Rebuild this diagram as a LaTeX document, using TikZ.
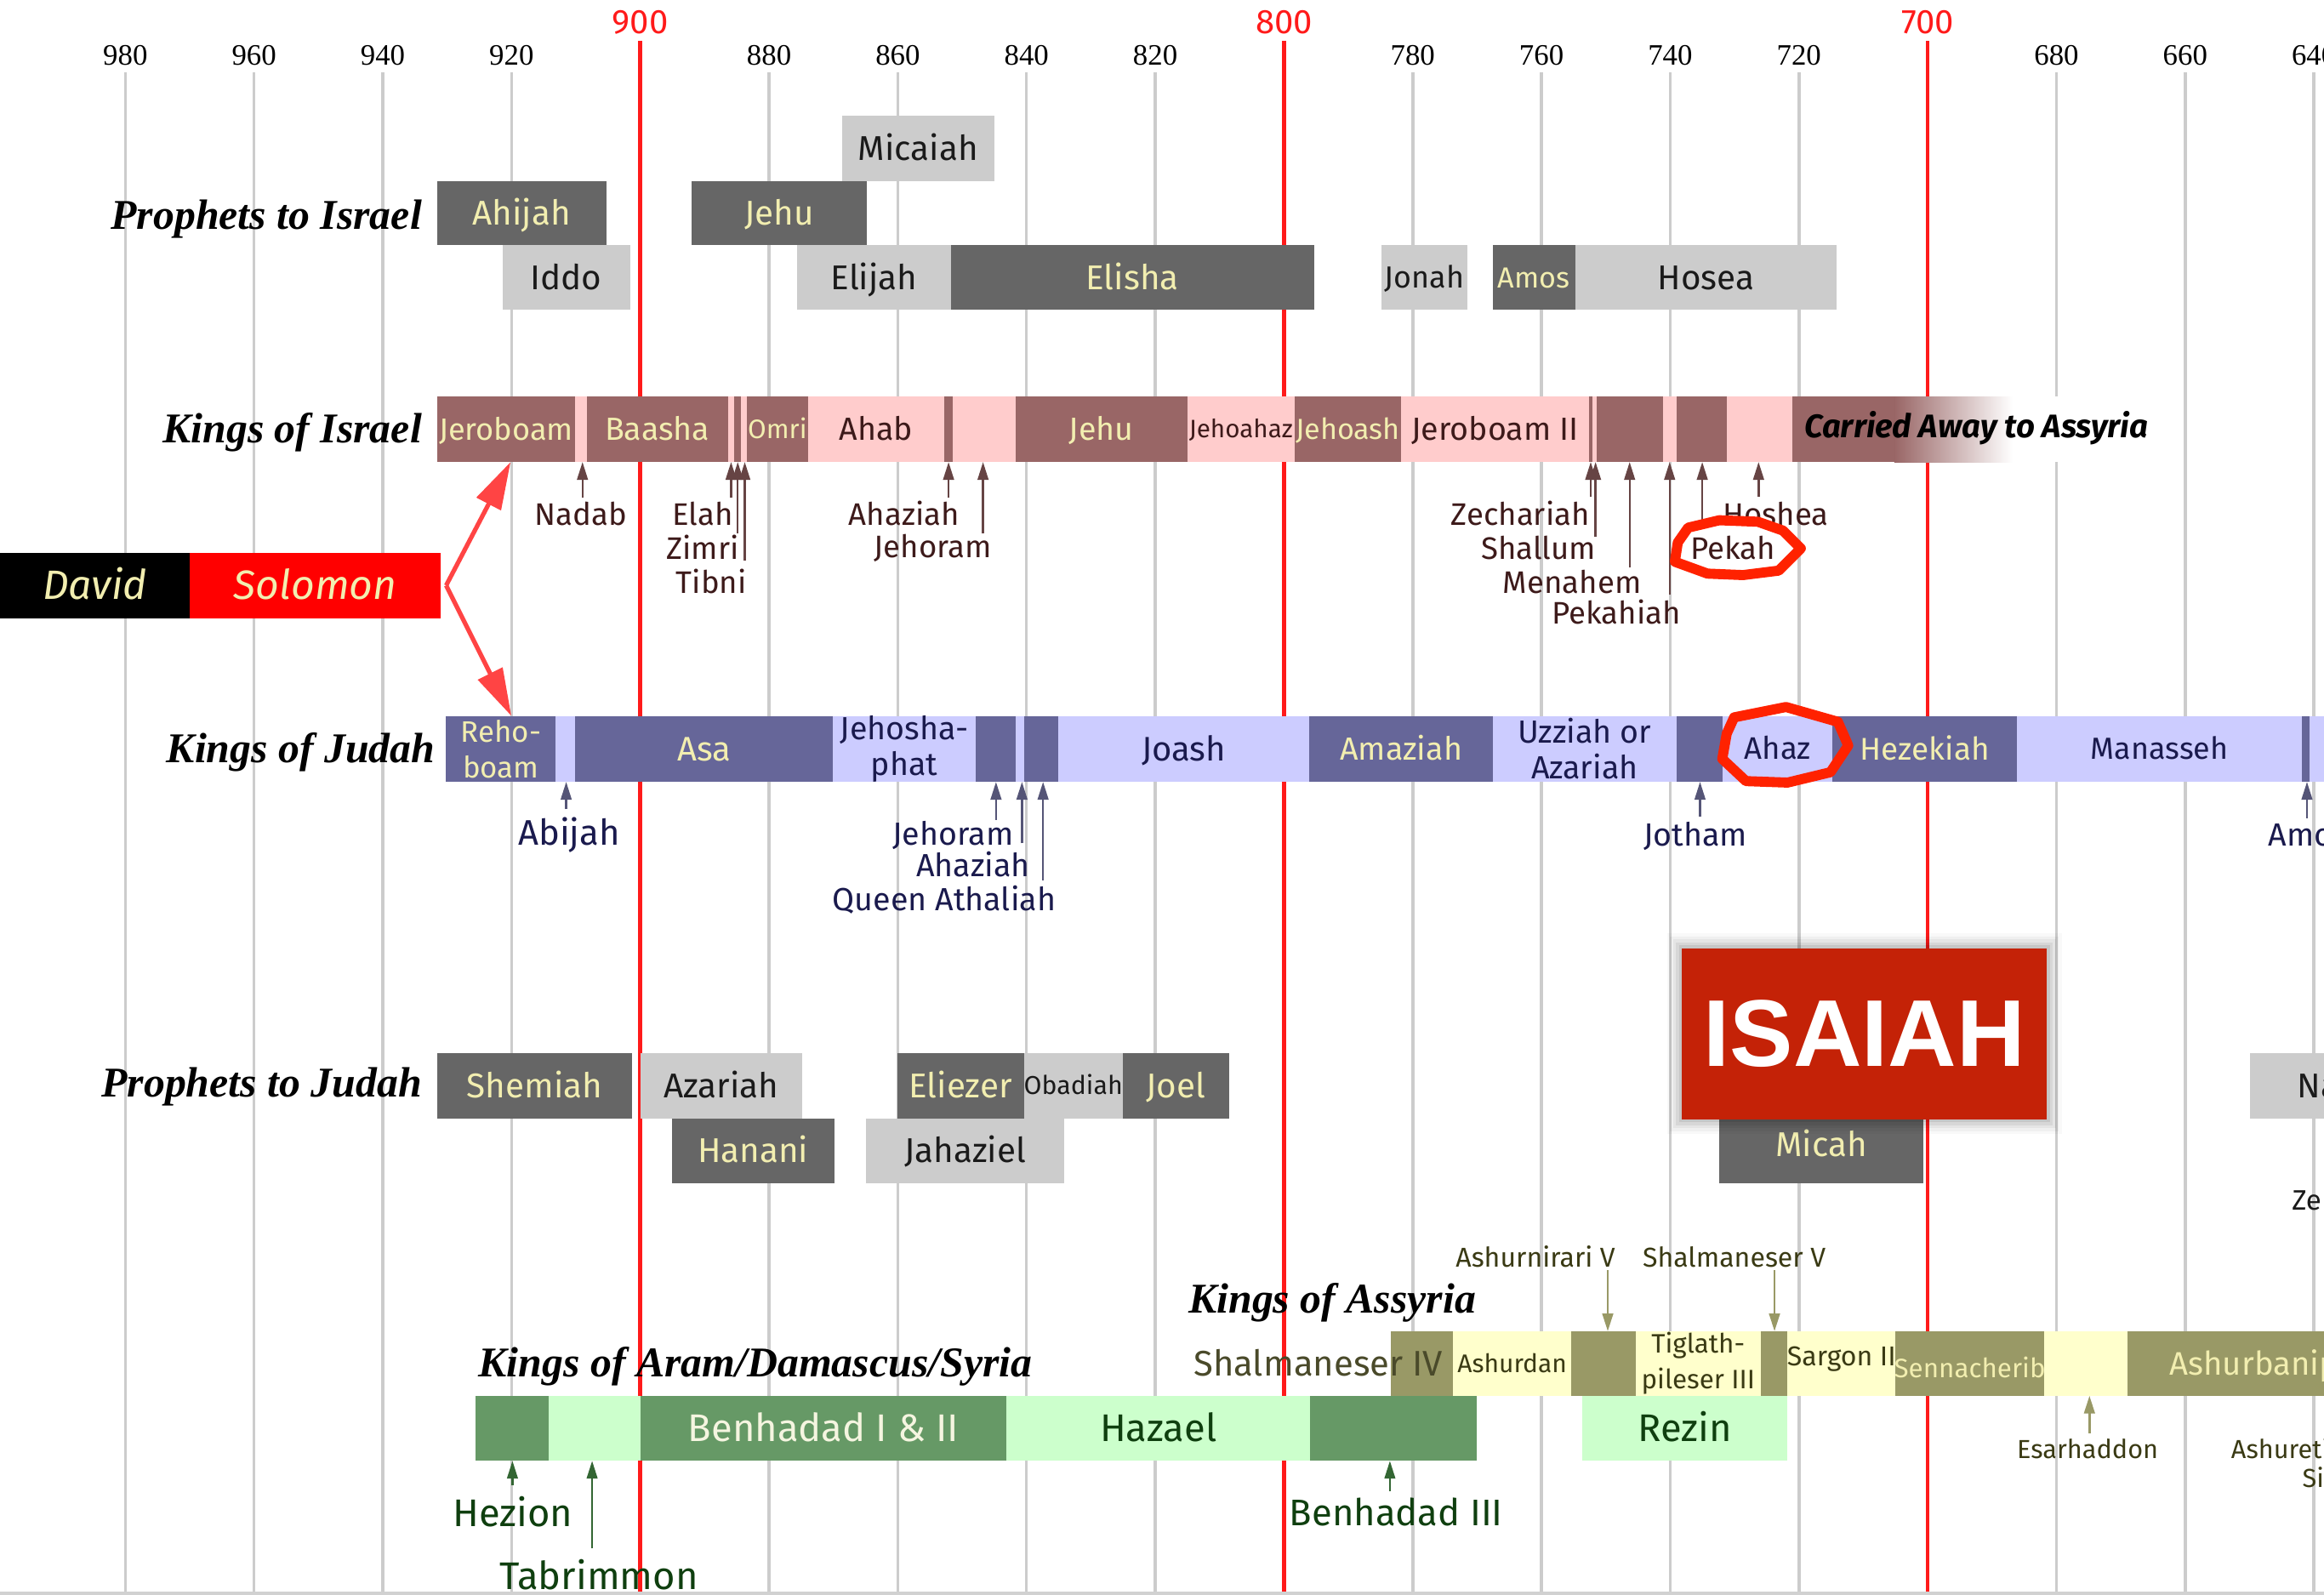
\documentclass[tikz,border=0pt]{standalone}
\usepackage{fontspec}
\setmainfont{Liberation Serif}
\newfontfamily\fsans{Fira Sans}
\newfontfamily\fhead{Liberation Sans}
\usetikzlibrary{fit,arrows.meta,calc}

\definecolor{pdark}{HTML}{666666}
\definecolor{plight}{HTML}{CCCCCC}
\definecolor{cream}{HTML}{F2EEB0}
\definecolor{creamw}{HTML}{F5F5E0}
\definecolor{ptext}{HTML}{1A1A1A}
\definecolor{idark}{HTML}{996666}
\definecolor{ilight}{HTML}{FFCCCC}
\definecolor{itext}{HTML}{3D1A1A}
\definecolor{jdark}{HTML}{666699}
\definecolor{jlight}{HTML}{CCCCFF}
\definecolor{jtext}{HTML}{1A1A4D}
\definecolor{adark}{HTML}{669966}
\definecolor{alight}{HTML}{CCFFCC}
\definecolor{atext}{HTML}{0F3F0F}
\definecolor{sdark}{HTML}{999966}
\definecolor{slight}{HTML}{FFFFCC}
\definecolor{stext}{HTML}{3A3A14}
\definecolor{stextb}{HTML}{4A4A2A}
\definecolor{iarrc}{HTML}{664444}
\definecolor{jarrc}{HTML}{555577}
\definecolor{aarrc}{HTML}{336633}
\definecolor{sarrc}{HTML}{999966}
\definecolor{gridc}{HTML}{CCCCCC}
\definecolor{redl}{HTML}{FF1A1A}
\definecolor{isaiahc}{HTML}{C42207}
\definecolor{ringc}{HTML}{FF2200}
\definecolor{forkc}{HTML}{FF4444}
\definecolor{solred}{HTML}{FF0000}

\tikzset{
  boxbase/.style={inner sep=0pt, outer sep=0pt, draw=none, rectangle},
  fs/.style={font={\fsans\fontsize{#1}{12}\selectfont}, inner sep=0pt, anchor=base, yshift={-0.3445pt*#1}},
  fsi/.style={font={\fsans\itshape\fontsize{#1}{14}\selectfont}, inner sep=0pt, anchor=base, yshift={-0.3445pt*#1}},
  fsm/.style={font={\fsans\fontsize{#1}{12}\selectfont}, inner sep=0pt, align=center},
  ptd/.style={text=cream}, ptl/.style={text=ptext},
  itd/.style={text=cream}, itl/.style={text=itext},
  jtd/.style={text=cream}, jtl/.style={text=jtext},
  atd/.style={text=creamw}, atl/.style={text=atext},
  std/.style={text=cream}, stl/.style={text=stext},
  grouphead/.style={font={\bfseries\itshape\fontsize{14.3}{15}\selectfont}, inner sep=0pt, text=black},
  gridl/.style={draw=gridc, line width=1pt},
  redline/.style={draw=redl, line width=1.3pt},
  yearlab/.style={font={\fontsize{10}{10}\selectfont}, inner sep=0pt, anchor=base},
  redyear/.style={font={\fsans\fontsize{11.5}{12}\selectfont}, text=redl, inner sep=0pt, anchor=base},
  arrtip/.style={-{Triangle[length=6pt,width=3.6pt]}},
  iar/.style={draw=iarrc, line width=0.7pt, arrtip},
  jar/.style={draw=jarrc, line width=0.7pt, arrtip},
  aar/.style={draw=aarrc, line width=0.7pt, arrtip},
  sar/.style={draw=sarrc, line width=0.8pt, arrtip},
  ringline/.style={draw=ringc, line width=3.4pt, line join=round},
  forkarr/.style={draw=forkc, line width=1.5pt, -{Triangle[length=16pt,width=9pt]}},
}
\newcommand\bx[8]{\node[boxbase, fit={(#3,#5) (#4,#6)}, #1] (#2) {};
  \node[#7] (#2t) at (#2.center) {#8};}
\newcommand\bxe[6]{\node[boxbase, fit={(#3,#5) (#4,#6)}, #1] (#2) {};}

\begin{document}
\begin{tikzpicture}[x=0.5pt,y=-0.5pt]
\useasboundingbox (0,0) rectangle (1568,1076);
\begin{scope}
\clip (0,0) rectangle (1568,1076);
\fill[white] (0,0) rectangle (1568,1076);

% grid and years
\foreach \yr in {980,960,940,920,880,860,840,820,780,760,740,720,680,660,640}{
  \pgfmathsetmacro\xx{432+(900-\yr)*4.343}
  \draw[gridl] (\xx,49) -- (\xx,1080);
  \node[yearlab] (yr\yr) at (\xx,43.9) {\yr};
}
\foreach \yr in {900,800,700}{
  \pgfmathsetmacro\xx{432+(900-\yr)*4.343}
  \draw[redline] (\xx,27.5) -- (\xx,1080);
  \node[redyear] (yr\yr) at (\xx,22.4) {\yr};
}
\draw[black!18, line width=1.2pt] (0,1075) -- (1568,1075);

% group headings
\node[grouphead, anchor=base east] (hIsrP) at (285,154.5) {Prophets to Israel};
\node[grouphead, anchor=base east] (hIsrK) at (285,298.6) {Kings of Israel};
\node[grouphead, anchor=base east] (hJudK) at (294,514.3) {Kings of Judah};
\node[grouphead, anchor=base east] (hJudP) at (285,740.3) {Prophets to Judah};
\node[grouphead, anchor=base west] (hAram) at (322.5,929.1) {Kings of Aram/Damascus/Syria};
\node[grouphead, anchor=base west] (hAss) at (801.5,885.6) {Kings of Assyria};

% Prophets to Israel
\bx{fill=plight}{micaiah}{568}{671}{78}{122}{fs=11.6,ptl}{Micaiah}
\bx{fill=pdark}{ahijah}{295}{409}{122}{165.5}{fs=11.6,ptd}{Ahijah}
\bx{fill=pdark}{jehuP}{466.5}{585}{122}{165.5}{fs=11.6,ptd}{Jehu}
\bx{fill=plight}{iddo}{339}{425}{165.5}{209}{fs=11.6,ptl}{Iddo}
\bx{fill=plight}{elijah}{538}{641.5}{165.5}{209}{fs=11.6,ptl}{Elijah}
\bx{fill=pdark}{elisha}{641.5}{886.5}{165.5}{209}{fs=11.6,ptd}{Elisha}
\bx{fill=plight}{jonah}{932}{990}{165.5}{209}{fs=10.3,ptl}{Jonah}
\bx{fill=pdark}{amos}{1007}{1063}{165.5}{209}{fs=9.8,ptd}{Amos}
\bx{fill=plight}{hosea}{1063}{1239}{165.5}{209}{fs=11.6,ptl}{Hosea}

% Kings of Israel
\bx{fill=idark}{jerob}{295}{388}{267.5}{311.7}{fs=10.4,itd}{Jeroboam}
\bxe{fill=ilight}{nadabB}{388}{396}{267.5}{311.7}
\bx{fill=idark}{baasha}{396}{491}{267.5}{311.7}{fs=10.8,itd}{Baasha}
\bxe{fill=ilight}{elahB}{491}{495.5}{267.5}{311.7}
\bxe{fill=idark}{zimriB}{495.5}{500}{267.5}{311.7}
\bxe{fill=ilight}{tibniB}{500}{504}{267.5}{311.7}
\bx{fill=idark}{omri}{504}{545}{267.5}{311.7}{fs=9,itd}{Omri}
\bx{fill=ilight}{ahab}{545}{637}{267.5}{311.7}{fs=10.8,itl}{Ahab}
\bxe{fill=idark}{ahazIB}{637}{642.75}{267.5}{311.7}
\bxe{fill=ilight}{jehoramIB}{642.75}{685.25}{267.5}{311.7}
\bx{fill=idark}{jehuK}{685.25}{801}{267.5}{311.7}{fs=10.8,itd}{Jehu}
\bx{fill=ilight}{jehoahaz}{801}{873.5}{267.5}{311.7}{fs=8.5,itl}{Jehoahaz}
\bx{fill=idark}{jehoash}{873.5}{945.25}{267.5}{311.7}{fs=9.8,itd}{Jehoash}
\bx{fill=ilight}{jerobII}{945.25}{1072}{267.5}{311.7}{fs=10.8,itl}{Jeroboam II}
\bxe{fill=idark}{zechB}{1072}{1074.5}{267.5}{311.7}
\bxe{fill=ilight}{shallB}{1074.5}{1077}{267.5}{311.7}
\bxe{fill=idark}{menB}{1077}{1122}{267.5}{311.7}
\bxe{fill=ilight}{pekahiahB}{1122}{1131}{267.5}{311.7}
\bxe{fill=idark}{pekahB}{1131}{1165}{267.5}{311.7}
\bxe{fill=ilight}{hosheaB}{1165}{1209}{267.5}{311.7}
\node[boxbase, fit={(1209,267.5) (1465,311.7)}, fill=white] (carried) {};
\fill[idark] (1209,267.5) rectangle (1279,311.7);
\shade[left color=idark, right color=white] (1278,267.5) rectangle (1358,311.7);
\node[font={\fsans\bfseries\itshape\fontsize{11}{12}\selectfont}, inner sep=0pt, anchor=base west] (carriedt) at (1217,295.2) {Carried Away to Assyria};

% Israel labels
\node[fs=10.5, text=itext] (nadab) at (392,347) {Nadab};
\node[fs=10.5, text=itext] (elah) at (474,347) {Elah};
\node[fs=10.5, text=itext] (zimri) at (474,370) {Zimri};
\node[fs=10.5, text=itext] (tibni) at (480,393) {Tibni};
\node[fs=10.5, text=itext] (ahazI) at (610,347) {Ahaziah};
\node[fs=10.5, text=itext] (jehoramI) at (629.5,369) {Jehoram};
\node[fs=10.5, text=itext] (zech) at (1025.75,347) {Zechariah};
\node[fs=10.5, text=itext] (shall) at (1038,370) {Shallum};
\node[fs=10.5, text=itext] (men) at (1060.75,393) {Menahem};
\node[fs=10.5, text=itext] (pekahiah) at (1090.5,413.6) {Pekahiah};
\node[fs=10.5, text=itext] (pekah) at (1169,370) {Pekah};
\node[fs=10.5, text=itext] (hoshea) at (1198,347) {Hoshea};
\coordinate (nadabA) at (393,336);
\coordinate (elahA) at (493.25,336);
\coordinate (zimriA) at (497.75,360);
\coordinate (tibniA) at (502.5,378);
\coordinate (ahazIA) at (640,336);
\coordinate (jehoramIA) at (663.25,360);
\coordinate (zechA) at (1073.25,335);
\coordinate (shallA) at (1076.5,362);
\coordinate (menA) at (1099.5,383);
\coordinate (pekahiahA) at (1126.5,401);
\coordinate (pekahA) at (1148.5,352);
\coordinate (hosheaA) at (1186.5,335);
\draw[iar] (nadabA) -- (nadabA |- nadabB.south);
\draw[iar] (elahA) -- (elahA |- elahB.south);
\draw[iar] (zimriA) -- (zimriA |- zimriB.south);
\draw[iar] (tibniA) -- (tibniA |- tibniB.south);
\draw[iar] (ahazIA) -- (ahazIA |- ahazIB.south);
\draw[iar] (jehoramIA) -- (jehoramIA |- jehoramIB.south);
\draw[iar] (zechA) -- (zechA |- zechB.south);
\draw[iar] (shallA) -- (shallA |- shallB.south);
\draw[iar] (menA) -- (menA |- menB.south);
\draw[iar] (pekahiahA) -- (pekahiahA |- pekahiahB.south);
\draw[iar] (pekahA) -- (pekahA |- pekahB.south);
\draw[iar] (hosheaA) -- (hosheaA |- hosheaB.south);

% David and Solomon
\bx{fill=black}{david}{0}{128}{373}{417}{fsi=13.8,text=cream}{David}
\bx{fill=solred}{solomon}{128}{297.5}{373}{417}{fsi=13.8,text=cream}{Solomon}

% Kings of Judah
\bx{fill=jdark}{rehob}{301}{375}{483}{527.5}{fsm=10,jtd}{Reho-\\boam}
\bxe{fill=jlight}{abijB}{375}{388}{483}{527.5}
\bx{fill=jdark}{asa}{388}{562}{483}{527.5}{fs=11.5,jtd}{Asa}
\bx{fill=jlight}{jehosh}{562}{658.25}{483}{527.5}{fsm=10.8,jtl}{Jehosha-\\phat}
\bxe{fill=jdark}{jehoramJB}{658.25}{685}{483}{527.5}
\bxe{fill=jlight}{ahazJB}{685}{691.25}{483}{527.5}
\bxe{fill=jdark}{athalB}{691.25}{713.75}{483}{527.5}
\bx{fill=jlight}{joash}{713.75}{883.5}{483}{527.5}{fs=11.5,jtl}{Joash}
\bx{fill=jdark}{amaz}{883.5}{1007.25}{483}{527.5}{fs=10.8,jtd}{Amaziah}
\bx{fill=jlight}{uzz}{1007.25}{1131}{483}{527.5}{fsm=10.8,jtl}{Uzziah or\\Azariah}
\bxe{fill=jdark}{jothamB}{1131}{1162.25}{483}{527.5}
\bx{fill=jlight}{ahaz}{1162.25}{1236.5}{483}{527.5}{fs=10.5,jtl}{Ahaz}
\bx{fill=jdark}{hez}{1236.5}{1361}{483}{527.5}{fs=10.6,jtd}{Hezekiah}
\bx{fill=jlight}{man}{1361}{1553}{483}{527.5}{fs=10.3,jtl}{Manasseh}
\bxe{fill=jdark}{amonB}{1553}{1558.5}{483}{527.5}
\bxe{fill=jlight}{josiahB}{1558.5}{1590}{483}{527.5}

% fork arrows
\coordinate (forkpt) at ($(solomon.east)+(3.5,0)$);
\draw[forkarr] (forkpt) -- ($(jerob.south)+(3,0)$);
\draw[forkarr] (forkpt) -- ($(rehob.north)+(7,0)$);

% Judah labels
\node[fs=12, text=jtext] (abijah) at (384,562) {Abijah};
\node[fs=10.8, text=jtext] (jehoramJ) at (643,562.5) {Jehoram};
\node[fs=10.8, text=jtext] (ahazJ) at (656.5,584) {Ahaziah};
\node[fs=10.8, text=jtext] (athal) at (637,607) {Queen Athaliah};
\node[fs=10.8, text=jtext] (jotham) at (1144,563.5) {Jotham};
\node[fs=10.8, text=jtext, anchor=base west] (amon) at (1530,563.5) {Amon};
\coordinate (abijA) at (382,546);
\coordinate (jehoramJA) at (672,553);
\coordinate (ahazJA) at (689.5,569);
\coordinate (athalA) at (703.75,594);
\coordinate (jothamA) at (1147,551);
\coordinate (amonA) at (1556.5,552);
\draw[jar] (abijA) -- (abijA |- abijB.south);
\draw[jar] (jehoramJA) -- (jehoramJA |- jehoramJB.south);
\draw[jar] (ahazJA) -- (ahazJA |- ahazJB.south);
\draw[jar] (athalA) -- (athalA |- athalB.south);
\draw[jar] (jothamA) -- (jothamA |- jothamB.south);
\draw[jar] (amonA) -- (amonA |- amonB.south);

% Prophets to Judah
\bx{fill=pdark}{shem}{295}{426.5}{710.5}{754.5}{fs=11.6,ptd}{Shemiah}
\bx{fill=plight}{azar}{432}{541.5}{710.5}{754.5}{fs=11.6,ptl}{Azariah}
\bx{fill=pdark}{hanani}{453.25}{562.75}{754.5}{798.5}{fs=11.6,ptd}{Hanani}
\bx{fill=pdark}{eliez}{605.25}{690.75}{710.5}{754.5}{fs=11.6,ptd}{Eliezer}
\bx{fill=plight}{obad}{690.75}{757.5}{710.5}{754.5}{fs=8.7,ptl}{Obadiah}
\bx{fill=pdark}{joel}{757.5}{829.5}{710.5}{754.5}{fs=11.6,ptd}{Joel}
\bx{fill=plight}{jahaz}{584.5}{717.75}{754.5}{798.5}{fs=11.6,ptl}{Jahaziel}
\bxe{fill=pdark}{micah}{1159.75}{1297.75}{740}{798.5}
\node[fs=11.6, ptd] (micaht) at (1228.75,772.3) {Micah};
\bxe{fill=plight}{nahum}{1518}{1590}{710.5}{754.5}
\node[fs=11.6, ptl, anchor=base west] (nahumt) at (1549.75,732.5) {Nahum};
\node[fs=9.5, ptl, anchor=base west] (zeph) at (1546,810) {Zephaniah};

% ISAIAH
\foreach \s/\o in {10/0.025,8/0.035,6/0.045,4/0.06,2/0.08}{
  \fill[black, opacity=\o] ({1134.75-\s},{639.7-\s}) rectangle ({1381+\s},{755.2+\s});
}
\node[boxbase, fit={(1134.75,639.7) (1381,755.2)}, fill=isaiahc] (isaiah) {};
\node[font={\fhead\bfseries\fontsize{32}{32}\selectfont}, text=white, inner sep=0pt] (isaiaht) at (isaiah.center) {ISAIAH};

% Kings of Assyria
\bxe{fill=sdark}{shal4}{938.5}{980.25}{898.2}{941.7}
\bx{fill=slight}{ashurdan}{980.25}{1060.25}{898.2}{941.7}{fs=8.6,stl}{Ashurdan}
\bxe{fill=sdark}{ashn5B}{1060.25}{1103.5}{898.2}{941.7}
\bx{fill=slight}{tig}{1103.5}{1188}{898.2}{941.7}{fsm=9,stl}{Tiglath-\\pileser III}
\bxe{fill=sdark}{shal5B}{1188}{1206}{898.2}{941.7}
\bxe{fill=slight}{sargon}{1206}{1278.5}{898.2}{941.7}
\bxe{fill=sdark}{senn}{1278.5}{1379}{898.2}{941.7}
\bxe{fill=slight}{esarB}{1379}{1435.25}{898.2}{941.7}
\bxe{fill=sdark}{ashurb}{1435.25}{1590}{898.2}{941.7}
\node[fs=12, text=stextb, anchor=base west] (shal4t) at (805,920) {Shalmaneser IV};
\node[fs=9.2, stl] (sargont) at (1242.5,915) {Sargon II};
\node[fs=9, std] (sennt) at (1329,923.4) {Sennacherib};
\node[fs=11, std, anchor=base west] (ashurbt) at (1463.5,920) {Ashurbanipal};

\node[fs=9.2, stl] (ashn5) at (1036,848.4) {Ashurnirari V};
\node[fs=9.2, stl] (shal5) at (1170,848.4) {Shalmaneser V};
\node[fs=8.8, stl] (esar) at (1408.5,977.7) {Esarhaddon};
\node[fs=8.8, stl, anchor=base west] (ashet) at (1505,977.7) {Ashuretililani};
\node[fs=8.8, stl, anchor=base west] (sinsh) at (1553,997.7) {Sinsharishkun};
\coordinate (ashn5A) at (1084.75,857);
\coordinate (shal5A) at (1197.25,857);
\coordinate (esarA) at (1409.75,966.8);
\draw[sar] (ashn5A) -- (ashn5A |- ashn5B.north);
\draw[sar] (shal5A) -- (shal5A |- shal5B.north);
\draw[sar] (esarA) -- (esarA |- esarB.south);

% Kings of Aram
\bxe{fill=adark}{hezionB}{320.75}{370.25}{941.7}{985.6}
\bxe{fill=alight}{tabrB}{370.25}{432}{941.7}{985.6}
\bx{fill=adark}{benh}{432}{679}{941.7}{985.6}{fs=13,atd}{Benhadad I \& II}
\bx{fill=alight}{hazael}{679}{884}{941.7}{985.6}{fs=13,atl}{Hazael}
\bxe{fill=adark}{benh3B}{884}{996.5}{941.7}{985.6}
\bx{fill=alight}{rezin}{1067.75}{1206}{941.7}{985.6}{fs=13,atl}{Rezin}
\node[fs=13, text=atext] (hezion) at (346,1021) {Hezion};
\node[fs=13, text=atext] (tabr) at (404,1063.5) {Tabrimmon};
\node[fs=12.5, text=atext] (benh3) at (942,1021) {Benhadad III};
\coordinate (hezionA) at (345.75,1002.3);
\coordinate (tabrA) at (399.5,1044.6);
\coordinate (benh3A) at (937.75,1006.2);
\draw[aar] (hezionA) -- (hezionA |- hezionB.south);
\draw[aar] (tabrA) -- (tabrA |- tabrB.south);
\draw[aar] (benh3A) -- (benh3A |- benh3B.south);

% red rings
\draw[ringline] (1139,356) -- (1160,351) -- (1186,352) -- (1203,358) -- (1215,370) -- (1200,385) -- (1176,388) -- (1152,387) -- (1130,379) -- (1132,366) -- cycle;
\draw[ringline] (1170,484) -- (1205,477) -- (1240,487) -- (1247,503) -- (1235,521) -- (1206,528) -- (1178,527) -- (1162,512) -- (1165,495) -- cycle;
\end{scope}
\end{tikzpicture}
\end{document}
